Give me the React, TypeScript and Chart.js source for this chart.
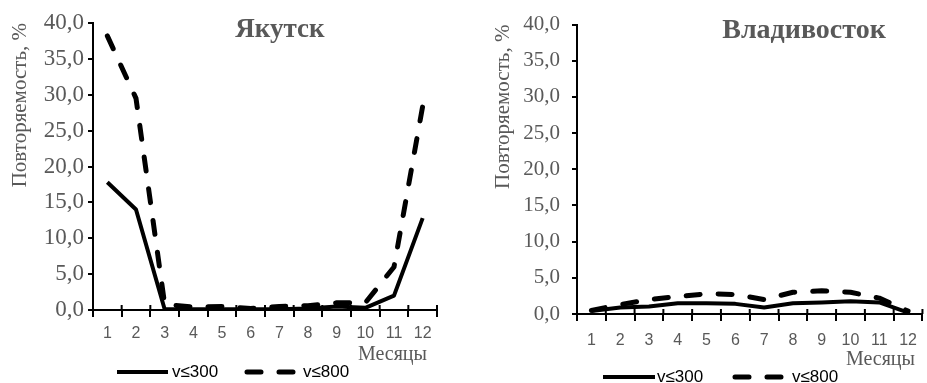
import React, { useEffect, useRef } from 'react';
import { Chart, registerables } from 'chart.js';

Chart.register(...registerables);

// ---------- data ----------
const months = ['1', '2', '3', '4', '5', '6', '7', '8', '9', '10', '11', '12'];
const seriesLabels = ['v≤300', 'v≤800'];
const yakutskV300 = [17.8, 14.0, 0.1, 0.1, 0.1, 0.1, 0.1, 0.2, 0.5, 0.3, 2.0, 12.8];
const yakutskV800 = [38.2, 29.5, 0.8, 0.4, 0.5, 0.2, 0.5, 0.6, 1.0, 1.0, 6.0, 28.4];
const vladV300 = [0.4, 0.9, 1.05, 1.5, 1.5, 1.4, 0.9, 1.5, 1.6, 1.75, 1.6, 0.2];
const vladV800 = [0.5, 1.3, 2.0, 2.4, 2.8, 2.7, 2.0, 3.0, 3.2, 3.0, 2.2, 0.4];
const yMin = 0;
const yMax = 40;
const yStep = 5;
const xAxisTitle = 'Месяцы';
const yAxisTitle = 'Повторяемость, %';

const GRAY = '#595959';
const SERIF = '"Liberation Serif", "Times New Roman", serif';
const SANS = '"Liberation Sans", Arial, sans-serif';

type PanelCfg = {
  title: string;
  v300: number[];
  v800: number[];
  left: number;
  width: number;
  padTop: number;
  padRight: number;
  yWidth: number;
  xHeight: number;
  yTitlePad: number;
  yTickPad: number;
  yTickFont: number;
  xTickPad: number;
  titleX: number;
  titleY: number;
  titleFont: number;
  monthsX: number;
  monthsY: number;
  legendY: number;
  legend: { x0: number; x1: number; tx: number }[];
};

const panels: PanelCfg[] = [
  {
    title: 'Якутск',
    v300: yakutskV300,
    v800: yakutskV800,
    left: 0,
    width: 460,
    padTop: 23,
    padRight: 23,
    yWidth: 93,
    xHeight: 73,
    yTitlePad: 8,
    yTickPad: 4,
    yTickFont: 23,
    xTickPad: 7,
    titleX: 280,
    titleY: 37,
    titleFont: 27,
    monthsX: 427,
    monthsY: 355,
    legendY: 372,
    legend: [
      { x0: 117, x1: 168, tx: 172 },
      { x0: 247, x1: 296, tx: 303 },
    ],
  },
  {
    title: 'Владивосток',
    v300: vladV300,
    v800: vladV800,
    left: 460,
    width: 467,
    padTop: 24,
    padRight: 1,
    yWidth: 117,
    xHeight: 69,
    yTitlePad: 31,
    yTickPad: 12,
    yTickFont: 21,
    xTickPad: 10,
    titleX: 344,
    titleY: 38,
    titleFont: 28,
    monthsX: 455,
    monthsY: 360,
    legendY: 377,
    legend: [
      { x0: 143, x1: 195, tx: 197 },
      { x0: 275, x1: 322, tx: 332 },
    ],
  },
];

function makeDecor(cfg: PanelCfg) {
  return {
    id: 'decor',
    afterDraw(chart: any) {
      const ctx = chart.ctx as CanvasRenderingContext2D;
      ctx.save();
      // chart title
      ctx.font = `bold ${cfg.titleFont}px ${SERIF}`;
      ctx.fillStyle = GRAY;
      ctx.textAlign = 'center';
      ctx.textBaseline = 'alphabetic';
      ctx.fillText(cfg.title, cfg.titleX, cfg.titleY);

      // tick marks crossing the x axis (part above the axis)
      const xs = chart.scales.x;
      const yb = chart.chartArea.bottom;
      ctx.strokeStyle = '#000';
      ctx.lineWidth = 2;
      for (let i = 0; i <= months.length; i++) {
        const px = xs.getPixelForValue(i - 0.5);
        ctx.beginPath();
        ctx.moveTo(px, yb);
        ctx.lineTo(px, yb - 5);
        ctx.stroke();
      }

      // x axis title
      ctx.font = `20px ${SERIF}`;
      ctx.fillStyle = GRAY;
      ctx.textAlign = 'right';
      ctx.textBaseline = 'middle';
      ctx.fillText(xAxisTitle, cfg.monthsX, cfg.monthsY);

      // legend
      chart.data.datasets.forEach((ds: any, i: number) => {
        const it = cfg.legend[i];
        ctx.save();
        ctx.strokeStyle = ds.borderColor;
        ctx.lineWidth = ds.borderWidth;
        ctx.lineCap = ds.borderCapStyle || 'butt';
        ctx.setLineDash(ds.borderDash || []);
        ctx.beginPath();
        ctx.moveTo(it.x0, cfg.legendY);
        ctx.lineTo(it.x1, cfg.legendY);
        ctx.stroke();
        ctx.restore();
        ctx.font = `17px ${SANS}`;
        ctx.fillStyle = '#000';
        ctx.textAlign = 'left';
        ctx.textBaseline = 'middle';
        ctx.fillText(ds.label, it.tx, cfg.legendY);
      });
      ctx.restore();
    },
  };
}

function Panel({ cfg }: { cfg: PanelCfg }) {
  const ref = useRef<HTMLCanvasElement | null>(null);
  useEffect(() => {
    if (!ref.current) return;
    const chart = new Chart(ref.current, {
      type: 'line',
      data: {
        labels: months,
        datasets: [
          {
            label: seriesLabels[0],
            data: cfg.v300,
            borderColor: '#000',
            backgroundColor: '#000',
            borderWidth: 4,
            pointRadius: 0,
            tension: 0,
            borderJoinStyle: 'round',
            borderCapStyle: 'butt',
          },
          {
            label: seriesLabels[1],
            data: cfg.v800,
            borderColor: '#000',
            backgroundColor: '#000',
            borderWidth: 5,
            borderDash: [14, 18],
            borderCapStyle: 'round',
            borderJoinStyle: 'round',
            pointRadius: 0,
            tension: 0,
          },
        ],
      },
      options: {
        animation: false,
        responsive: false,
        devicePixelRatio: 1,
        layout: { padding: { top: cfg.padTop, right: cfg.padRight, left: 0, bottom: 0 } },
        plugins: {
          legend: { display: false },
          tooltip: { enabled: false },
        },
        scales: {
          x: {
            type: 'category',
            offset: true,
            grid: {
              offset: true,
              drawOnChartArea: false,
              drawTicks: true,
              tickLength: 7,
              color: '#000',
              lineWidth: 2,
            },
            border: { display: true, color: '#000', width: 2 },
            ticks: {
              color: GRAY,
              font: { family: SANS, size: 16 },
              padding: cfg.xTickPad,
              maxRotation: 0,
              autoSkip: false,
            },
            afterFit: (s: any) => {
              s.height = cfg.xHeight;
            },
          },
          y: {
            min: yMin,
            max: yMax,
            grid: {
              drawOnChartArea: false,
              drawTicks: true,
              tickLength: 5,
              color: '#000',
              lineWidth: 2,
            },
            border: { display: true, color: '#000', width: 2 },
            ticks: {
              stepSize: yStep,
              color: GRAY,
              font: { family: SERIF, size: cfg.yTickFont },
              padding: cfg.yTickPad,
              callback: (v: any) => Number(v).toFixed(1).replace('.', ','),
            },
            title: {
              display: true,
              text: yAxisTitle,
              align: 'end',
              color: GRAY,
              font: { family: SERIF, size: 21 },
              padding: { top: cfg.yTitlePad, bottom: 0 },
            },
            afterFit: (s: any) => {
              s.width = cfg.yWidth;
            },
          },
        },
      },
      plugins: [makeDecor(cfg)],
    } as any);
    return () => chart.destroy();
  }, [cfg]);
  return (
    <div style={{ position: 'absolute', left: cfg.left, top: 0, width: cfg.width, height: 383 }}>
      <canvas ref={ref} width={cfg.width} height={383} style={{ display: 'block' }} />
    </div>
  );
}

export default function App() {
  return (
    <div
      style={{
        position: 'fixed',
        left: 0,
        top: 0,
        width: 927,
        height: 383,
        background: '#fff',
        overflow: 'hidden',
      }}
    >
      {panels.map((p) => (
        <Panel key={p.title} cfg={p} />
      ))}
    </div>
  );
}
